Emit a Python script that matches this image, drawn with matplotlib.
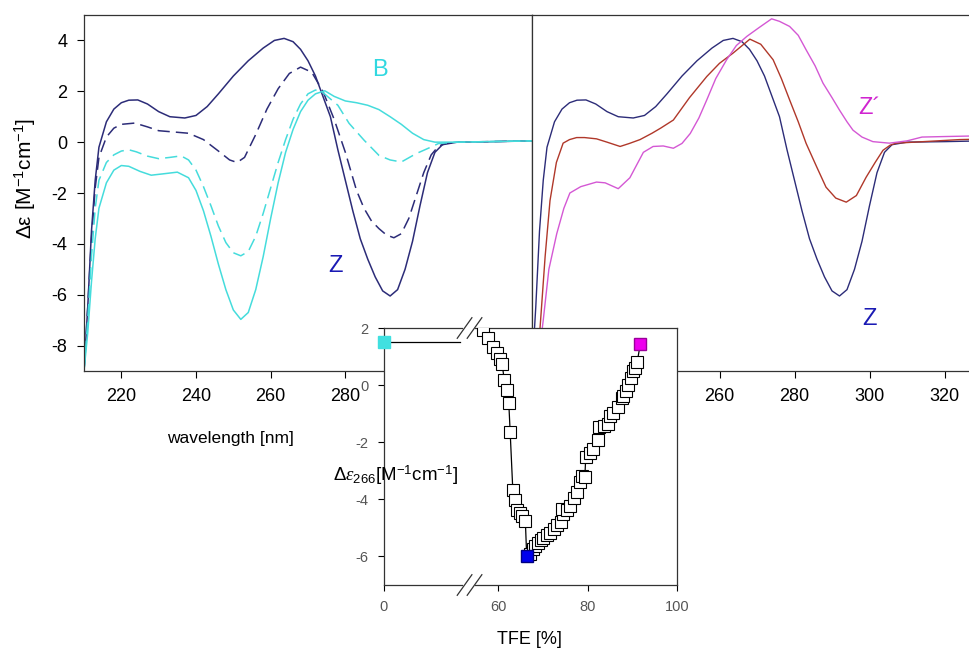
import numpy as np
import matplotlib.pyplot as plt
from matplotlib.transforms import blended_transform_factory

plt.rcParams['font.family'] = ['Liberation Sans', 'DejaVu Sans']
plt.rcParams['mathtext.fontset'] = 'custom'
plt.rcParams['mathtext.rm'] = 'Liberation Sans'
plt.rcParams['mathtext.it'] = 'Liberation Serif:italic'

# --- CD spectra, left panel (wavelength nm, delta eps) ---
z_wl = [210, 211, 212, 213, 214, 216, 218, 220, 222, 224.4, 227, 230, 233, 237, 240, 243,
        246, 250, 254, 258, 261, 263.6, 266, 268, 270, 272, 274, 276, 278, 280, 282, 284,
        286, 288, 290, 292, 294, 296, 298, 300, 302, 304, 306, 308, 310, 320, 330]
z_de = [-9.0, -6.5, -3.5, -1.5, -0.2, 0.8, 1.3, 1.55, 1.65, 1.66, 1.5, 1.2, 1.0, 0.95, 1.05, 1.4,
        1.9, 2.6, 3.2, 3.7, 4.0, 4.08, 3.95, 3.65, 3.2, 2.6, 1.8, 1.0, -0.3, -1.5, -2.7, -3.8,
        -4.6, -5.3, -5.85, -6.05, -5.8, -5.0, -3.9, -2.5, -1.2, -0.4, -0.1, -0.05, 0.0, 0.02, 0.05]

zd_wl = [210, 211, 212, 213, 214, 216, 218, 220, 223.6, 227, 230, 234, 238, 242, 246, 249,
         251, 253, 256, 259, 262, 265, 268, 271, 274, 277, 280, 283, 285, 287, 289, 291,
         293, 295, 297, 299, 301, 303, 305, 307, 310, 330]
zd_de = [-9.0, -6.5, -3.8, -1.8, -0.6, 0.2, 0.55, 0.7, 0.75, 0.6, 0.45, 0.4, 0.35, 0.1, -0.35, -0.7,
         -0.8, -0.6, 0.3, 1.3, 2.1, 2.7, 2.95, 2.75, 2.0, 0.9, -0.4, -1.9, -2.6, -3.1, -3.4, -3.65,
         -3.76, -3.6, -3.0, -2.1, -1.2, -0.5, -0.15, -0.05, 0.0, 0.05]

bd_wl = [210, 211, 212, 213, 214, 216, 218, 220, 222, 224, 227, 230, 233, 236, 238, 240,
         242, 244, 246, 248, 250, 252, 254, 256, 258, 260, 262, 264, 266, 268, 270, 272,
         274, 276, 278, 281, 285, 289, 292, 295, 299, 303, 305, 310, 330]
bd_de = [-9.0, -7.0, -4.5, -2.6, -1.5, -0.8, -0.5, -0.35, -0.3, -0.38, -0.55, -0.65, -0.6, -0.54, -0.7, -1.1,
         -1.75, -2.5, -3.3, -3.95, -4.35, -4.47, -4.3, -3.7, -2.8, -1.8, -0.8, 0.1, 0.9, 1.5, 1.9, 2.05,
         1.95, 1.7, 1.45, 0.74, 0.08, -0.52, -0.7, -0.78, -0.45, -0.19, -0.05, 0.0, 0.05]

b_wl = [210, 211, 212, 213, 214, 216, 218, 220, 222, 225, 228, 231, 235, 238, 240, 242,
        244, 246, 248, 250, 252, 254, 256, 258, 260, 262, 264, 266, 268, 270, 272, 274.5,
        277, 280, 283, 286, 289, 292, 295, 298, 301, 304, 310, 330]
b_de = [-9.0, -7.5, -5.5, -3.8, -2.6, -1.6, -1.1, -0.92, -0.95, -1.15, -1.3, -1.25, -1.18, -1.4, -1.9, -2.7,
        -3.7, -4.8, -5.8, -6.6, -6.97, -6.7, -5.8, -4.5, -3.0, -1.6, -0.4, 0.5, 1.2, 1.65, 1.9, 2.02,
        1.8, 1.62, 1.55, 1.45, 1.28, 1.0, 0.7, 0.35, 0.1, 0.0, 0.0, 0.05]

# --- right panel ---
r_wl = [210, 212.1, 213.5, 214.8, 216.5, 218.3, 220, 221.9, 224, 227.2, 230, 233.5, 236, 238.8, 242,
        244.3, 247.7, 252, 256.6, 260, 263.6, 268.1, 271, 274.3, 276.5, 278.7, 281, 283.1, 286, 288.4,
        291, 293.8, 296.5, 299.1, 301.5, 303.6, 305.5, 307.1, 312, 318, 324, 330]
r_de = [-9.0, -7.4, -4.5, -2.3, -0.8, -0.04, 0.1, 0.18, 0.18, 0.13, 0.0, -0.17, -0.05, 0.1, 0.35,
        0.55, 0.87, 1.75, 2.58, 3.1, 3.5, 4.05, 3.85, 3.24, 2.5, 1.66, 0.8, -0.05, -1.0, -1.77,
        -2.2, -2.36, -2.1, -1.38, -0.8, -0.32, -0.12, -0.04, 0.0, 0.05, 0.1, 0.12]

m_wl = [210, 212, 213, 214.5, 216.6, 218.5, 220.1, 223, 227.2, 229.5, 233, 236.1, 239.7, 242.3, 245,
        247.7, 250, 252.2, 254.5, 256.6, 259, 261.9, 264.5, 267.3, 270.5, 273.9, 276, 278.7, 281,
        283.1, 285.5, 287.6, 290, 292, 294, 295.6, 298, 300.9, 305.3, 310, 314, 320, 330]
m_de = [-9.0, -8.2, -7.0, -5.0, -3.6, -2.6, -2.0, -1.75, -1.57, -1.6, -1.83, -1.4, -0.4, -0.17, -0.15,
        -0.24, -0.05, 0.34, 0.95, 1.66, 2.5, 3.24, 3.8, 4.16, 4.5, 4.85, 4.75, 4.55, 4.2,
        3.63, 3.0, 2.32, 1.75, 1.26, 0.8, 0.47, 0.2, 0.02, -0.04, 0.05, 0.2, 0.22, 0.25]

# --- inset: TFE titration (TFE %, delta eps at 266 nm) ---
tfe = [56.7, 57.8, 58.95, 59.7, 60.45, 60.9, 61.4, 61.9, 62.4, 62.7, 63.3, 63.8, 64.3, 64.8, 65.3,
       66.1, 67.1, 67.7, 68.3, 68.9, 69.5, 70.1, 70.9, 71.6, 72.5, 73.1, 74.0, 74.6, 74.3, 75.3,
       76.1, 77.0, 77.7, 78.3, 78.7, 79.4, 79.6, 80.5, 81.2, 82.4, 82.6, 83.6, 84.6, 85.0, 85.7,
       86.8, 87.6, 87.9, 88.7, 89.1, 89.7, 90.2, 90.5, 91.1]
de266 = [1.93, 1.64, 1.35, 1.12, 0.91, 0.74, 0.17, -0.16, -0.64, -1.63, -3.69, -4.04, -4.39, -4.47, -4.58,
         -4.76, -5.90, -5.75, -5.63, -5.53, -5.43, -5.35, -5.26, -5.17, -5.05, -4.91, -4.79, -4.50, -4.33, -4.36,
         -4.22, -3.96, -3.73, -3.41, -3.17, -3.23, -2.51, -2.36, -2.24, -1.92, -1.45, -1.43, -1.37, -1.08, -0.97,
         -0.77, -0.45, -0.37, -0.22, 0.02, 0.25, 0.48, 0.60, 0.81]
b_point = (0, 1.52)
z_point = (66.4, -6.0)
zp_point = (91.8, 1.44)

navy = '#2c2c78'
cyan = '#45dcdc'
red = '#b0382a'
mag = '#d458d4'
dash = (0, (8, 4))

fig = plt.figure(figsize=(9.7, 6.5), dpi=100)
ax1 = fig.add_axes([84 / 970, 1 - 371 / 650, 448 / 970, 356 / 650])
ax2 = fig.add_axes([532 / 970, 1 - 371 / 650, 450 / 970, 356 / 650])

for ax in (ax1, ax2):
    ax.set_xlim(210, 330)
    ax.set_ylim(-9, 5)
    ax.set_xticks([220, 240, 260, 280, 300, 320])
    ax.tick_params(direction='out', length=5, width=0.8, labelsize=13, pad=7)
    for s in ax.spines.values():
        s.set_linewidth(0.9)
        s.set_color('#333333')

ax1.plot(z_wl, z_de, color=navy, lw=1.1)
ax1.plot(zd_wl, zd_de, color=navy, lw=1.1, ls=dash)
ax1.plot(bd_wl, bd_de, color=cyan, lw=1.1, ls=dash)
ax1.plot(b_wl, b_de, color=cyan, lw=1.1)
ax1.set_yticks([4, 2, 0, -2, -4, -6, -8])
ax1.set_yticklabels(['4', '2', '0', '-2', '-4', '-6', '-8'])
ax1.text(289.3, 2.84, 'B', color='#30d8e0', fontsize=17, ha='center', va='center')
ax1.text(277.3, -4.87, 'Z', color='#1a1ab4', fontsize=17, ha='center', va='center')
ax1.text(0.326, -0.19, 'wavelength [nm]', transform=ax1.transAxes, fontsize=12.5, ha='center', va='center')
ax1.text(-0.13, 0.54, 'Δε [M$^{-1}$cm$^{-1}$]', transform=ax1.transAxes, fontsize=15,
         rotation=90, ha='center', va='center')

ax2.plot(z_wl, z_de, color=navy, lw=1.0)
ax2.plot(r_wl, r_de, color=red, lw=1.0)
ax2.plot(m_wl, m_de, color=mag, lw=1.0)
ax2.set_yticks([])
ax2.spines['right'].set_visible(False)
ax2.text(300, 1.34, 'Z\u00b4', color='#d024d0', fontsize=17, ha='center', va='center')
ax2.text(300, -6.96, 'Z', color='#1a1ab4', fontsize=17, ha='center', va='center')

# --- inset with broken x axis ---
x0, xb = 34.5, 53.3


def fwd(x):
    x = np.asarray(x, dtype=float)
    return np.where(x < xb, x0 + x * (xb - x0) / xb, x)


def inv(y):
    y = np.asarray(y, dtype=float)
    return np.where(y < xb, (y - x0) * xb / (xb - x0), y)


ax3 = fig.add_axes([384 / 970, 1 - 585 / 650, 293 / 970, 257 / 650])
ax3.set_xscale('function', functions=(fwd, inv))
ax3.set_xlim(0, 100)
ax3.set_ylim(-7, 2)
ax3.set_xticks([0, 60, 80, 100])
ax3.set_xticklabels(['0', '60', '80', '100'])
ax3.set_yticks([2, 0, -2, -4, -6])
ax3.set_yticklabels(['2', '0', '-2', '-4', '-6'])
ax3.tick_params(direction='out', length=4, width=0.8, labelsize=10.5, labelcolor='#555555', pad=7)
for s in ax3.spines.values():
    s.set_linewidth(0.9)
    s.set_color('#333333')
ax3.spines['top'].set_visible(False)
ax3.spines['bottom'].set_visible(False)

# spines drawn in two pieces with a gap for the break
gl, gr = 0.265, 0.31
for yy in (0, 1):
    ax3.plot([0, gl], [yy, yy], transform=ax3.transAxes, color='#333333', lw=0.9, clip_on=False)
    ax3.plot([gr, 1], [yy, yy], transform=ax3.transAxes, color='#333333', lw=0.9, clip_on=False)
    for dx in (-0.012, 0.022):
        xc = 0.287 + dx
        ax3.plot([xc - 0.025, xc + 0.025], [yy - 0.04, yy + 0.04], transform=ax3.transAxes,
                 color='#333333', lw=0.9, clip_on=False)

# horizontal line from B point up to the break
tr = blended_transform_factory(ax3.transAxes, ax3.transData)
ax3.plot([0, gl - 0.005], [b_point[1], b_point[1]], transform=tr, color='black', lw=0.9)

seq_x = tfe[:16] + [z_point[0]] + tfe[16:] + [zp_point[0]]
seq_y = de266[:16] + [z_point[1]] + de266[16:] + [zp_point[1]]
ax3.plot(seq_x, seq_y, color='black', lw=0.9, zorder=2)
ax3.plot(tfe, de266, ls='none', marker='s', ms=8.5, mfc='white', mec='black', mew=0.8, zorder=3)
ax3.plot(*b_point, marker='s', ms=8.5, color='#40e0e0', mec='#40e0e0', zorder=4, clip_on=False)
ax3.plot(*z_point, marker='s', ms=8.5, color='#0000ee', mec='#000080', zorder=4)
ax3.plot(*zp_point, marker='s', ms=8.5, color='#ee00ee', mec='#990099', zorder=4)

ax3.text(-0.174, 0.428, r'$\mathrm{\Delta}\mathit{\varepsilon}_{266}$[M$^{-1}$cm$^{-1}$]', transform=ax3.transAxes,
         fontsize=13.5, ha='left', va='center')
ax3.text(0.498, -0.214, 'TFE [%]', transform=ax3.transAxes, fontsize=13, ha='center', va='center')

fig.savefig('out.png', dpi=100)
